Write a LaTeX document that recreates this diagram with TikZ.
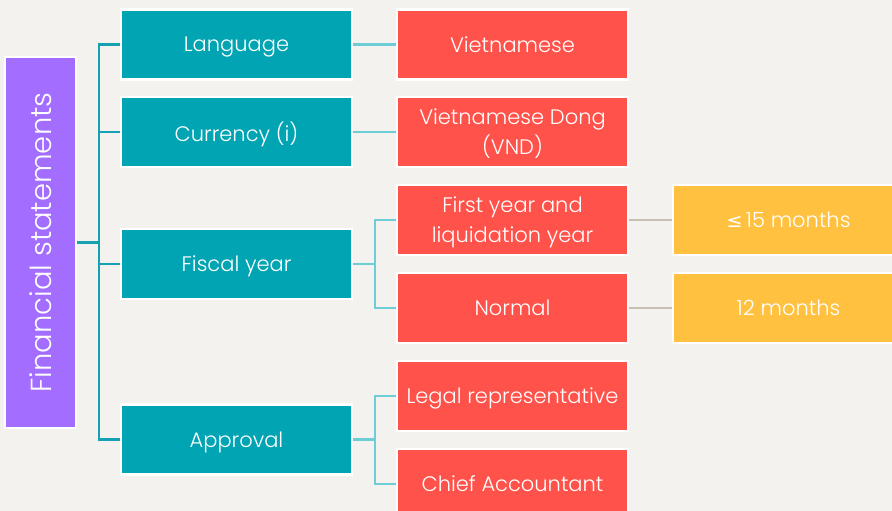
\documentclass[tikz,border=0pt]{standalone}
\usepackage{fontspec}
\setmainfont{Poppins}[UprightFont={* Light}]
\newfontfamily\symfont{DejaVu Sans}
\definecolor{bg}{HTML}{F3F2EE}
\definecolor{purp}{HTML}{A36DFF}
\definecolor{teal1}{HTML}{00A4B3}
\definecolor{trunk}{HTML}{14A2B2}
\definecolor{lteal}{HTML}{6DCDD5}
\definecolor{red1}{HTML}{FF524A}
\definecolor{yel}{HTML}{FFC13F}
\definecolor{greyl}{HTML}{C8BFB3}
\begin{document}
\begin{tikzpicture}[x=1pt,y=-1pt,
  box/.style={draw=white,line width=2.5pt,minimum width=231pt,minimum height=70pt,
    text=white,align=center,font=\fontsize{21}{30}\selectfont,inner sep=0pt,text depth=0pt},
  tealbox/.style={box,fill=teal1},
  redbox/.style={box,fill=red1},
  yelbox/.style={box,fill=yel},
  tline/.style={draw=trunk,line width=2.5pt},
  lline/.style={draw=lteal,line width=2.5pt},
  gline/.style={draw=greyl,line width=2.5pt}]
\fill[bg] (0,0) rectangle (892,511);
\useasboundingbox (0,0) rectangle (892,511);
\clip (0,0) rectangle (892,511);
\node[box,fill=purp,minimum width=371pt,minimum height=71pt,rotate=90,
  font=\fontsize{29}{32}\selectfont] (fs) at (40.5,242.5) {Financial statements};
\node[tealbox] (lang) at (236.5,44.5) {Language};
\node[tealbox] (cur) at (236.5,132) {Currency (i)};
\node[tealbox] (fis) at (236.5,264) {Fiscal year};
\node[tealbox] (appr) at (236.5,439.5) {Approval};
\node[redbox] (vn) at (512.5,44.5) {Vietnamese};
\node[redbox] (vnd) at (512.5,132) {Vietnamese Dong\\(VND)};
\node[redbox] (first) at (512.5,220) {First year and\\liquidation year};
\node[redbox] (norm) at (512.5,308) {Normal};
\node[redbox] (legal) at (512.5,396) {Legal representative};
\node[redbox] (chief) at (512.5,484) {Chief Accountant};
\node[yelbox] (m15) at (788.5,220) {{\symfont\fontsize{19}{20}\selectfont ≤}\,15 months};
\node[yelbox] (m12) at (788.5,308) {12 months};
\coordinate (j) at (99,242.5);
\coordinate (jf) at (375,264);
\coordinate (ja) at (375,439.5);
\draw[tline] (fs.south) -- (j);
\draw[tline] (lang.west) -| (j) |- (appr.west);
\draw[tline] (cur.west) -- (cur.west -| j);
\draw[tline] (fis.west) -- (fis.west -| j);
\draw[lline] (lang.east) -- (vn.west);
\draw[lline] (cur.east) -- (vnd.west);
\draw[lline] (fis.east) -- (jf);
\draw[lline] (first.west) -| (jf) |- (norm.west);
\draw[lline] (appr.east) -- (ja);
\draw[lline] (legal.west) -| (ja) |- (chief.west);
\draw[gline] (first.east) -- (m15.west);
\draw[gline] (norm.east) -- (m12.west);
\end{tikzpicture}
\end{document}
